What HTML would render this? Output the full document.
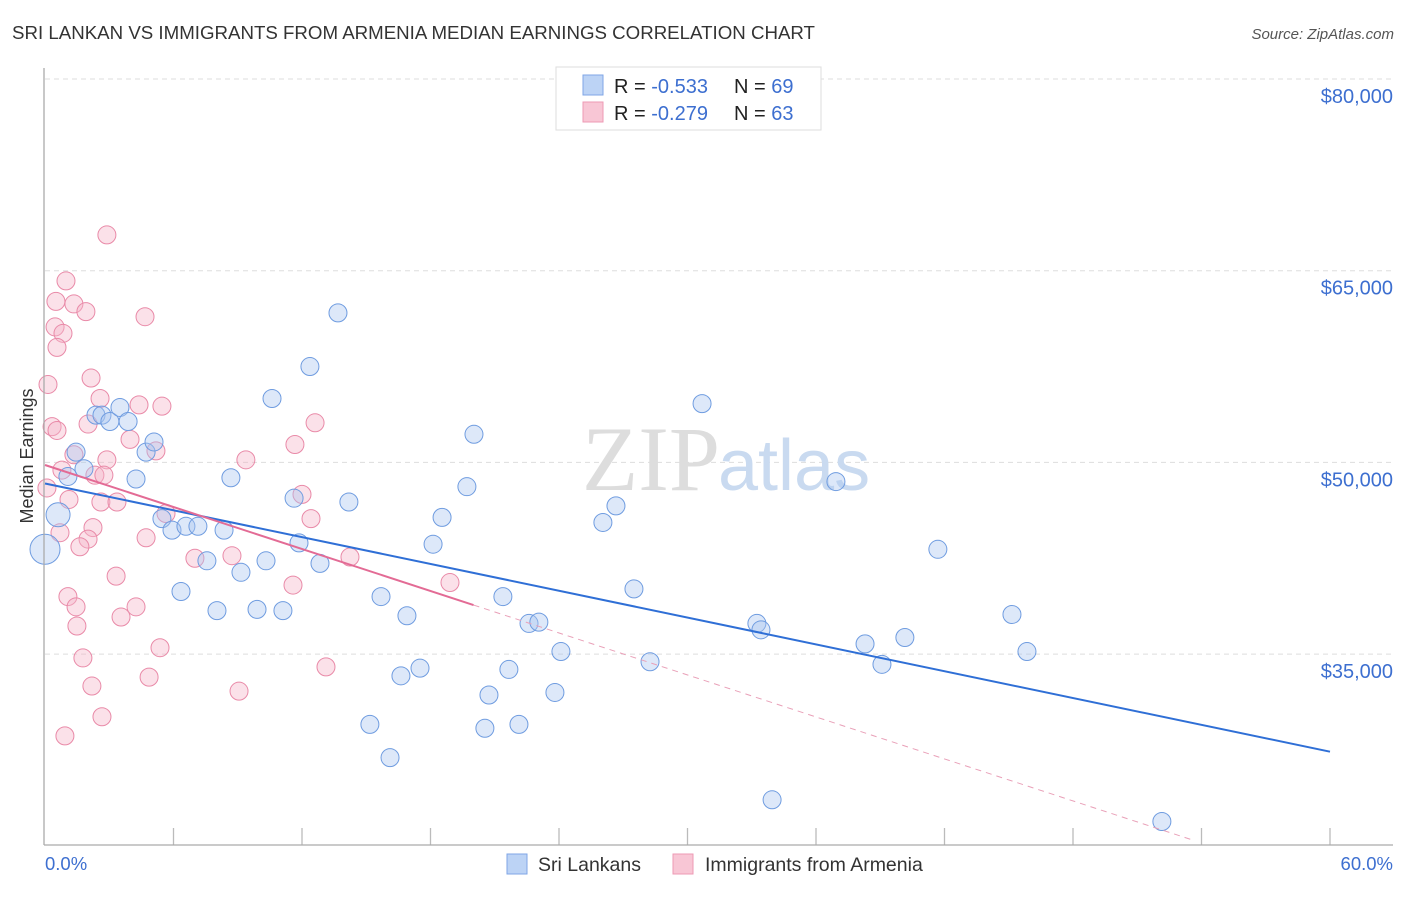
<!DOCTYPE html>
<html><head><meta charset="utf-8"><style>
body{margin:0;background:#fff;width:1406px;height:892px;overflow:hidden;font-family:"Liberation Sans",sans-serif}
</style></head><body>
<svg id="chart" width="1406" height="892" xmlns="http://www.w3.org/2000/svg">
<text x="12" y="39" font-size="18.7" fill="#333">SRI LANKAN VS IMMIGRANTS FROM ARMENIA MEDIAN EARNINGS CORRELATION CHART</text>
<text x="1394" y="39" font-size="15" fill="#555" font-style="italic" text-anchor="end">Source: ZipAtlas.com</text>
<g id="grid"></g>
<text x="720" y="490" font-size="92" font-family="Liberation Serif,serif" fill="#ddd" text-anchor="end">ZIP</text>
<text x="718" y="490" font-size="72" fill="#c9daf0">atlas</text>
<g id="marks"></g>
<line x1="44" y1="68" x2="44" y2="845" stroke="#aaa" stroke-width="1.3"/>
<line x1="44" y1="845" x2="1393" y2="845" stroke="#aaa" stroke-width="1.3"/>
<text x="33" y="456" font-size="18" fill="#333" text-anchor="middle" transform="rotate(-90 33 456)">Median Earnings</text>
<text x="45" y="870" font-size="18.5" fill="#3d6fd0">0.0%</text>
<text x="1393" y="870" font-size="18.5" fill="#3d6fd0" text-anchor="end">60.0%</text>
<g>
<rect x="556" y="67" width="265" height="63" fill="#fff" stroke="#ddd"/>
<rect x="583" y="75" width="20" height="20" fill="#bcd3f5" stroke="#7fa6e6"/>
<rect x="583" y="102" width="20" height="20" fill="#f8c6d5" stroke="#ee9ab4"/>
<text x="614" y="93" font-size="20" fill="#222">R = <tspan fill="#3d6fd0">-0.533</tspan><tspan x="734">N = </tspan><tspan fill="#3d6fd0">69</tspan></text>
<text x="614" y="120" font-size="20" fill="#222">R = <tspan fill="#3d6fd0">-0.279</tspan><tspan x="734">N = </tspan><tspan fill="#3d6fd0">63</tspan></text>
</g>
<g>
<rect x="507" y="854" width="20" height="20" fill="#bcd3f5" stroke="#7fa6e6"/>
<text x="538" y="871" font-size="19.5" fill="#333">Sri Lankans</text>
<rect x="673" y="854" width="20" height="20" fill="#f8c6d5" stroke="#ee9ab4"/>
<text x="705" y="871" font-size="19.5" fill="#333">Immigrants from Armenia</text>
</g>
</svg>
<script>
const yTicks=[80000,65000,50000,35000];
const yTickLabels=["$80,000","$65,000","$50,000","$35,000"];
const xTicks=[0,6,12,18,24,30,36,42,48,54,60];
const blueX=[0,0.61,1.07,1.45,1.82,2.38,2.66,3.03,3.5,3.88,4.25,4.72,5.09,5.46,5.93,6.58,6.35,7.14,7.56,8.03,8.36,8.68,9.15,9.9,10.32,10.6,11.11,11.63,11.86,12.37,12.84,13.68,14.19,15.69,16.62,16.9,16.11,17.51,15.17,18.12,18.54,19.7,20.03,20.54,20.73,21.38,21.66,22.13,22.6,23.06,23.81,24.09,26.05,26.66,27.5,28.25,30.68,33.24,33.43,33.95,36.93,38.29,39.08,40.15,41.69,45.15,45.85,52.15];
const blueY=[43200,45900,48900,50800,49500,53700,53700,53200,54300,53200,48700,50800,51600,45600,44700,45000,39900,45000,42300,38400,44700,48800,41400,38500,42300,55000,38400,47200,43700,57500,42100,61700,46900,39500,33300,38000,26900,33900,29500,43600,45700,48100,52200,29200,31800,39500,33800,29500,37400,37500,32000,35200,45300,46600,40100,34400,54600,37400,36900,23600,48500,35800,34200,36300,43200,38100,35200,21900];
const pinkX=[2.89,0.98,0.51,1.35,1.91,4.67,0.47,0.84,0.56,0.14,2.15,2.57,4.39,5.46,0.33,2.01,0.56,12.61,3.97,5.18,1.35,2.89,9.38,0.79,2.33,0.09,1.12,2.61,3.36,12.0,5.65,12.42,11.67,2.24,0.7,2.01,4.72,1.63,7.0,8.73,14.24,3.32,1.07,1.45,4.25,3.55,1.49,11.58,18.91,5.37,1.77,13.12,4.86,2.19,9.06,2.66,0.93,2.75];
const pinkY=[67800,64200,62600,62400,61800,61400,60600,60100,59000,56100,56600,55000,54500,54400,52800,53000,52500,53100,51800,50900,50600,50200,50200,49400,49000,48000,47100,46900,46900,47500,46000,45600,51400,44900,44500,44000,44100,43400,42500,42700,42600,41100,39500,38700,38700,37900,37200,40400,40600,35500,34700,34000,33200,32500,32100,30100,28600,49000];
const bigIdx=[0,1];
const X=v=>45+v/60*1285, Y=v=>79+(80000-v)/15000*191.7;
const NS="http://www.w3.org/2000/svg";
const mk=(p,t,a)=>{const e=document.createElementNS(NS,t);for(const k in a)e.setAttribute(k,a[k]);p.appendChild(e);return e;};
const grid=document.getElementById('grid'),marks=document.getElementById('marks');
yTicks.forEach((v,i)=>{
 const l=mk(grid,'line',{x1:45,x2:1393,y1:Y(v),y2:Y(v),stroke:'#ddd','stroke-dasharray':'5,4'});
 
 
 const t=mk(grid,'text',{x:1393,y:Y(v)+24,'font-size':20,fill:'#3d6fd0','text-anchor':'end'});
 t.textContent=yTickLabels[i];
 
 
});
xTicks.forEach(v=>{if(v===0)return;
 const l=mk(grid,'line',{x1:X(v),x2:X(v),y1:828,y2:845,stroke:'#bbb','stroke-width':1.3});
 
 
});
function fit(xs,ys){const n=xs.length;let mx=0,my=0;xs.forEach((x,i)=>{mx+=x;my+=ys[i]});mx/=n;my/=n;let sxy=0,sxx=0;xs.forEach((x,i)=>{sxy+=(x-mx)*(ys[i]-my);sxx+=(x-mx)**2});const b=sxy/sxx;return [my-b*mx,b];}
function dots(xs,ys,fill,stroke,name){xs.forEach((x,i)=>{
 const r=(name==='sri-lankan-point'&&bigIdx.includes(i))?(i===0?15:12):9;
 const c=mk(marks,'circle',{cx:X(x),cy:Y(ys[i]),r:r,fill:fill,'fill-opacity':0.4,stroke:stroke,'stroke-width':1});
 
 
});}
dots(pinkX,pinkY,'#f4b3c7','#e98aa8','armenia-point');
dots(blueX,blueY,'#a9c6ef','#6f9ce0','sri-lankan-point');
const [ab,bb]=fit(blueX,blueY);
const bl=mk(marks,'line',{x1:X(0),y1:Y(ab),x2:X(60),y2:Y(ab+bb*60),stroke:'#2f6fd6','stroke-width':2});


const [ap,bp]=fit(pinkX,pinkY);
const pmax=Math.max(...pinkX)+1.1;
const pl=mk(marks,'line',{x1:X(0),y1:Y(ap),x2:X(pmax),y2:Y(ap+bp*pmax),stroke:'#e36b95','stroke-width':2});


const xEnd=Math.min(60,(20400-ap)/bp);
const pd=mk(marks,'line',{x1:X(pmax),y1:Y(ap+bp*pmax),x2:X(xEnd),y2:Y(ap+bp*xEnd),stroke:'#e9a0b8','stroke-width':1,'stroke-dasharray':'6,5'});


</script>
</body></html>
